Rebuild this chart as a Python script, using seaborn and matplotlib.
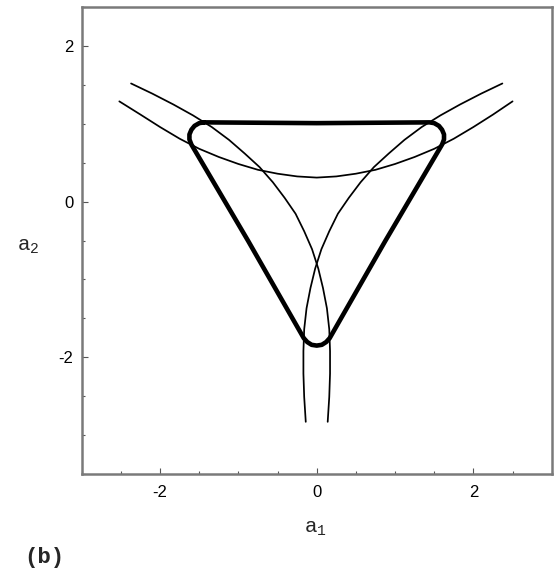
import matplotlib
matplotlib.use("Agg")
import matplotlib.pyplot as plt
from matplotlib.ticker import MultipleLocator, FuncFormatter
import pandas as pd
import seaborn as sns

# Upper branch (opens upward, symmetric about a1 = 0)
upper_a1 = [-2.52, -2.25, -2.0, -1.75, -1.5, -1.25, -1.0, -0.75, -0.5, -0.25, 0.0,
            0.25, 0.5, 0.75, 1.0, 1.25, 1.5, 1.75, 2.0, 2.25, 2.5]
upper_a2 = [1.29, 1.12, 0.96, 0.81, 0.68, 0.575, 0.485, 0.41, 0.36, 0.325, 0.31,
            0.325, 0.36, 0.41, 0.485, 0.575, 0.68, 0.81, 0.96, 1.12, 1.29]

# Branch running from the upper left down to the bottom right
left_a1 = [0.14, 0.16, 0.17, 0.17, 0.16, 0.13, 0.08, 0.02, -0.06, -0.16, -0.27,
           -0.41, -0.56, -0.73, -0.92, -1.12, -1.34, -1.58, -1.83, -2.10, -2.37]
left_a2 = [-2.83, -2.51, -2.21, -1.92, -1.64, -1.37, -1.11, -0.86, -0.61, -0.38, -0.155,
           0.05, 0.25, 0.445, 0.62, 0.795, 0.96, 1.11, 1.25, 1.39, 1.52]

# Branch running from the upper right down to the bottom left
right_a1 = [-0.14, -0.16, -0.17, -0.17, -0.16, -0.13, -0.08, -0.02, 0.06, 0.16, 0.27,
            0.41, 0.56, 0.73, 0.92, 1.12, 1.34, 1.58, 1.83, 2.10, 2.37]
right_a2 = [-2.83, -2.51, -2.21, -1.92, -1.64, -1.37, -1.11, -0.86, -0.61, -0.38, -0.155,
            0.05, 0.25, 0.445, 0.62, 0.795, 0.96, 1.11, 1.25, 1.39, 1.52]

# Closed boundary (rounded triangle)
bound_a1 = [-1.44, -0.72, 0.0, 0.72, 1.44, 1.50, 1.56, 1.60, 1.625, 1.625, 1.60,
            0.875, 0.165, 0.12, 0.065, 0.0, -0.065, -0.12, -0.165, -0.875,
            -1.60, -1.625, -1.625, -1.60, -1.56, -1.50, -1.44]
bound_a2 = [1.02, 1.015, 1.01, 1.015, 1.02, 1.01, 0.975, 0.925, 0.865, 0.80, 0.735,
            -0.505, -1.755, -1.805, -1.84, -1.85, -1.84, -1.805, -1.755, -0.505,
            0.735, 0.80, 0.865, 0.925, 0.975, 1.01, 1.02]

x_ticks = [-2, 0, 2]
y_ticks = [-2, 0, 2]

sns.set_theme(style="white")
plt.rcParams["font.family"] = ["Liberation Sans", "DejaVu Sans"]
plt.rcParams["axes.unicode_minus"] = False

fig = plt.figure(figsize=(5.56, 5.71), dpi=100)
ax = fig.add_axes([0.147, 0.170, 0.8453, 0.8173])

thin = dict(color="black", linewidth=1.25, sort=False, estimator=None, ax=ax)
for xs, ys in [(upper_a1, upper_a2), (left_a1, left_a2), (right_a1, right_a2)]:
    df = pd.DataFrame({"a1": xs, "a2": ys})
    sns.lineplot(data=df, x="a1", y="a2", **thin)

df_b = pd.DataFrame({"a1": bound_a1, "a2": bound_a2})
sns.lineplot(data=df_b, x="a1", y="a2", color="black", linewidth=3.3,
             sort=False, estimator=None, ax=ax,
             solid_joinstyle="round", solid_capstyle="round")

ax.set_xlim(-3, 3)
ax.set_ylim(-3.5, 2.5)
ax.set_xticks(x_ticks)
ax.set_yticks(y_ticks)
ax.xaxis.set_minor_locator(MultipleLocator(0.5))
ax.yaxis.set_minor_locator(MultipleLocator(0.5))
fmt = FuncFormatter(lambda v, p: f"{v:g}")
ax.xaxis.set_major_formatter(fmt)
ax.yaxis.set_major_formatter(fmt)
ax.tick_params(which="both", direction="in", color="#555555", width=0.8,
               bottom=True, left=True, top=False, right=False)
ax.tick_params(which="major", length=4)
ax.tick_params(which="minor", length=2.5)
ax.tick_params(axis="x", labelsize=12, pad=8, labelcolor="black")
ax.tick_params(axis="y", labelsize=12, pad=6, labelcolor="black")
ax.set_xlabel("")
ax.set_ylabel("")
for s in ax.spines.values():
    s.set_color("#7a7a7a")
    s.set_linewidth(1.8)

mono = ["Liberation Mono", "DejaVu Sans Mono"]
fig.text(0.568, 0.0753, r"$\mathregular{a_1}$", family=mono, fontsize=15,
         ha="center", va="center")
fig.text(0.0504, 0.569, r"$\mathregular{a_2}$", family=mono, fontsize=15,
         ha="center", va="center")
fig.text(0.080, 0.0245, "(b)", family=mono, fontsize=16, fontweight="bold",
         ha="center", va="center")

fig.savefig("out.png", dpi=100)
